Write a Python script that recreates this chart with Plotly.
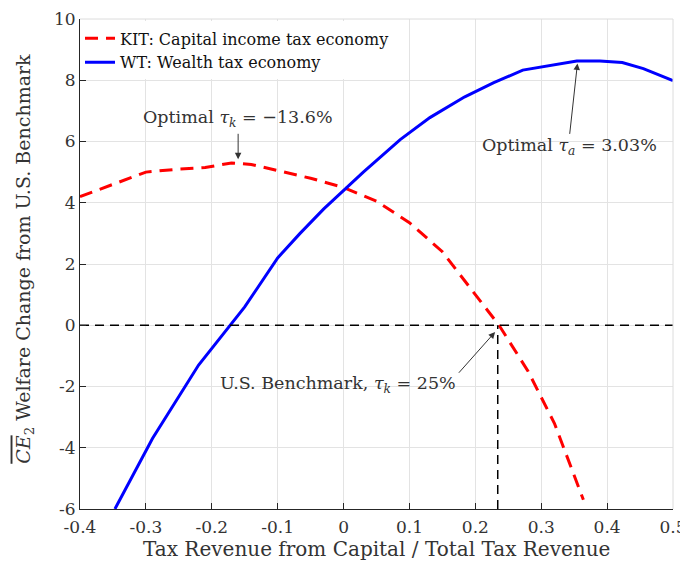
import plotly.graph_objects as go

# ---- data ----
kit_x = [-0.40, -0.35, -0.30, -0.25, -0.21, -0.17, -0.14, -0.10, -0.05, 0.00, 0.05, 0.10, 0.15, 0.20, 0.236, 0.28, 0.32, 0.364]
kit_y = [4.20, 4.60, 5.00, 5.10, 5.15, 5.30, 5.25, 5.05, 4.80, 4.50, 4.05, 3.35, 2.40, 1.00, 0.00, -1.50, -3.20, -5.70]

wt_x = [-0.347, -0.29, -0.22, -0.172, -0.15, -0.10, -0.066, -0.03, 0.03, 0.086, 0.131, 0.184, 0.228, 0.272, 0.32, 0.354, 0.389, 0.423, 0.455, 0.50]
wt_y = [-6.00, -3.70, -1.30, 0.00, 0.60, 2.20, 3.00, 3.80, 5.00, 6.06, 6.78, 7.46, 7.92, 8.33, 8.50, 8.63, 8.63, 8.58, 8.38, 7.99]

benchmark_x = 0.234
x_ticks = [-0.4, -0.3, -0.2, -0.1, 0, 0.1, 0.2, 0.3, 0.4, 0.5]
x_tick_labels = ["-0.4", "-0.3", "-0.2", "-0.1", "0", "0.1", "0.2", "0.3", "0.4", "0.5"]
y_ticks = [-6, -4, -2, 0, 2, 4, 6, 8, 10]
y_tick_labels = ["-6", "-4", "-2", "0", "2", "4", "6", "8", "10"]

x_title = "Tax Revenue from Capital / Total Tax Revenue"
y_title = "<span style='text-decoration:overline'><i>CE</i></span><sub>2</sub> Welfare Change from U.S. Benchmark"

FONT = "DejaVu Serif"
TXT = "#333333"

fig = go.Figure()
fig.add_trace(go.Scatter(x=kit_x, y=kit_y, mode="lines",
                         name="KIT: Capital income tax economy",
                         line=dict(color="#ff0000", width=3, dash="13px,8px")))
fig.add_trace(go.Scatter(x=wt_x, y=wt_y, mode="lines",
                         name="WT: Wealth tax economy",
                         line=dict(color="#0000ff", width=3)))

# reference lines
fig.add_trace(go.Scatter(x=[-0.4, 0.5], y=[0, 0], mode="lines", showlegend=False,
                         line=dict(color="black", width=1.5, dash="9px,6px"), hoverinfo="skip"))
fig.add_trace(go.Scatter(x=[benchmark_x, benchmark_x], y=[-6, 0], mode="lines", showlegend=False,
                         line=dict(color="black", width=1.5, dash="9px,6px"), hoverinfo="skip"))

# arrows
arrows = [
    dict(x=-0.16, y=5.42, ax=-0.16, ay=6.3),
    dict(x=0.355, y=8.55, ax=0.343, ay=6.2),
    dict(x=0.23, y=-0.22, ax=0.173, ay=-1.6),
]
for a in arrows:
    fig.add_annotation(x=a["x"], y=a["y"], ax=a["ax"], ay=a["ay"], xref="x", yref="y",
                       axref="x", ayref="y", text="", showarrow=True,
                       arrowhead=2, arrowsize=1.3, arrowwidth=1, arrowcolor="#333333")

texts = [
    dict(x=-0.16, y=6.75, t="Optimal <i>τ<sub>k</sub></i> = −13.6%"),
    dict(x=0.343, y=5.85, t="Optimal <i>τ<sub>a</sub></i> = 3.03%"),
    dict(x=-0.009, y=-1.95, t="U.S. Benchmark, <i>τ<sub>k</sub></i> = 25%"),
]
for t in texts:
    fig.add_annotation(x=t["x"], y=t["y"], xref="x", yref="y", text=t["t"], showarrow=False,
                       font=dict(family=FONT, size=17.5, color=TXT))

# axis titles as annotations for exact placement
fig.add_annotation(x=0.5, y=-0.082, xref="paper", yref="paper", text=x_title,
                   showarrow=False, xanchor="center", yanchor="middle",
                   font=dict(family=FONT, size=20, color=TXT))
fig.add_annotation(x=-0.095, y=0.51, xref="paper", yref="paper", text=y_title,
                   showarrow=False, xanchor="center", yanchor="middle", textangle=-90,
                   font=dict(family=FONT, size=19, color=TXT))

# top/right box
fig.add_shape(type="line", xref="paper", yref="paper", x0=0, x1=1, y0=1, y1=1,
              line=dict(color="#dcdcdc", width=1))
fig.add_shape(type="line", xref="paper", yref="paper", x0=1, x1=1, y0=0, y1=1,
              line=dict(color="#dcdcdc", width=1))

# page body has an 8px margin, so the figure is 680x553 and offset accordingly
fig.update_layout(
    width=680, height=553,
    margin=dict(l=72, r=15, t=11, b=52, autoexpand=False),
    paper_bgcolor="white", plot_bgcolor="white",
    font=dict(family=FONT, size=17, color=TXT),
    showlegend=True,
    legend=dict(x=0.0, y=0.995, xanchor="left", yanchor="top", bgcolor="white",
                borderwidth=0, font=dict(family=FONT, size=16, color="#111111"),
                tracegroupgap=0, itemwidth=30),
)
fig.update_xaxes(range=[-0.4, 0.5], tickvals=x_ticks, ticktext=x_tick_labels,
                 showgrid=True, gridcolor="#e3e3e3", zeroline=False, automargin=False,
                 showline=True, linecolor="#262626", linewidth=1,
                 ticks="inside", ticklen=6, tickcolor="#262626", ticklabelstandoff=3,
                 tickfont=dict(family=FONT, size=17, color=TXT))
fig.update_yaxes(range=[-6, 10], tickvals=y_ticks, ticktext=y_tick_labels,
                 showgrid=True, gridcolor="#e3e3e3", zeroline=False, automargin=False,
                 showline=True, linecolor="#262626", linewidth=1,
                 ticks="inside", ticklen=6, tickcolor="#262626",
                 tickfont=dict(family=FONT, size=17, color=TXT))

fig.write_html("out.html")
